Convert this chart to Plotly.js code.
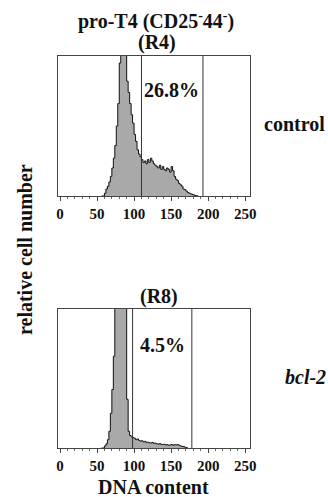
<!DOCTYPE html>
<html>
<head>
<meta charset="utf-8">
<script src="https://cdn.plot.ly/plotly-3.0.1.min.js"></script>
<style>html,body{margin:0;padding:0;background:#fff;}#chart{width:328px;height:497px;}</style>
</head>
<body>
<div id="chart"></div>
<script>
// DNA content bins (channel) and relative cell number (fraction of panel height)
const binsControl = [56,58,60,62,64,66,68,70,72,74,76,78,80,82,84,86,88,90,92,94,96,98,100,102,104,106,108,110,112,114,116,118,120,122,124,126,128,130,132,134,136,138,140,142,144,146,148,150,152,154,156,158,160,162,164,166,168,170,172,174,176,178,180,182,184,186];
const countsControl = [0,0,0.02,0.05,0.07,0.10,0.14,0.20,0.27,0.36,0.50,0.66,0.95,1.3,1.5,1.4,1.1,0.82,0.74,0.66,0.58,0.52,0.44,0.39,0.33,0.30,0.28,0.26,0.24,0.25,0.23,0.26,0.24,0.27,0.25,0.23,0.22,0.21,0.20,0.22,0.19,0.21,0.19,0.18,0.20,0.19,0.17,0.21,0.18,0.14,0.12,0.11,0.09,0.08,0.07,0.05,0.045,0.035,0.025,0.02,0.015,0.012,0.008,0.004,0.002,0];
const binsBcl2 = [56,58,60,62,64,66,68,70,72,74,76,78,80,82,84,86,88,90,92,94,96,98,100,102,104,106,108,110,112,114,116,118,120,122,124,126,128,130,132,134,136,138,140,142,144,146,148,150,152,154,156,158,160,162,164,166,168,170,172];
const countsBcl2 = [0,0,0.015,0.03,0.06,0.12,0.25,0.42,0.66,1.05,1.4,1.6,1.7,1.6,1.5,1.3,1.02,0.35,0.12,0.09,0.08,0.075,0.07,0.06,0.065,0.055,0.05,0.052,0.045,0.048,0.04,0.042,0.038,0.036,0.04,0.033,0.035,0.03,0.028,0.032,0.026,0.025,0.027,0.022,0.024,0.02,0.022,0.025,0.02,0.024,0.022,0.025,0.02,0.015,0.012,0.01,0.006,0.003,0];
// gate markers (DNA channel)
const gatesControl = [110, 193];
const gatesBcl2 = [98, 178];
const tickVals = [0, 50, 100, 150, 200, 250];
const tickText = ['0', '50', '100', '150', '200', '250'];
const pctControl = '26.8%';
const pctBcl2 = '4.5%';

const W = 328, H = 497;
const px = v => v / W;
const py = v => 1 - v / H;
const serif = 'Liberation Serif, Times New Roman, serif';

function hist(x, y, xa, ya) {
  return {x: x, y: y, xaxis: xa, yaxis: ya, type: 'scatter', mode: 'lines',
    line: {shape: 'hv', color: '#111', width: 1}, fill: 'tozeroy', fillcolor: '#a9a9a9',
    hoverinfo: 'skip', showlegend: false};
}
function gate(v, xa, ya) {
  return {x: [v, v], y: [0, 1.2], xaxis: xa, yaxis: ya, type: 'scatter', mode: 'lines',
    line: {color: '#333', width: 1}, hoverinfo: 'skip', showlegend: false};
}
const traces = [hist(binsControl, countsControl, 'x', 'y'), hist(binsBcl2, countsBcl2, 'x2', 'y2')];
gatesControl.forEach(g => traces.push(gate(g, 'x', 'y')));
gatesBcl2.forEach(g => traces.push(gate(g, 'x2', 'y2')));

function xax(dom, anchor) {
  return {domain: dom, anchor: anchor, range: [-2.7, 256.5], showgrid: false, zeroline: false,
    showline: true, mirror: true, linecolor: '#444', linewidth: 1.2,
    ticks: 'outside', ticklen: 4, tickwidth: 1, tickcolor: '#444',
    tickvals: tickVals, ticktext: tickText,
    minor: {dtick: 10, tick0: 0, ticks: 'outside', ticklen: 2, tickcolor: '#666', showgrid: false},
    tickfont: {family: serif, size: 15, color: '#111', weight: 'bold'}, fixedrange: true};
}
function yax(dom, anchor) {
  return {domain: dom, anchor: anchor, range: [0, 1], showgrid: false, zeroline: false,
    showline: true, mirror: true, linecolor: '#444', linewidth: 1.2,
    ticks: '', showticklabels: false, fixedrange: true};
}
const f20 = {family: serif, size: 20, color: '#111', weight: 'bold'};
function ann(text, x, y, extra) {
  return Object.assign({text: text, xref: 'paper', yref: 'paper', x: px(x), y: py(y),
    xanchor: 'center', yanchor: 'middle', showarrow: false, font: f20}, extra || {});
}
const layout = {
  width: W, height: H, margin: {l: 0, r: 0, t: 0, b: 0},
  paper_bgcolor: '#fff', plot_bgcolor: '#fff', showlegend: false,
  xaxis: xax([px(58), px(250)], 'y'),
  yaxis: yax([py(196), py(56)], 'x'),
  xaxis2: xax([px(58), px(250)], 'y2'),
  yaxis2: yax([py(448), py(309)], 'x2'),
  annotations: [
    ann('pro-T4 (CD25<sup>-</sup>44<sup>-</sup>)', 156, 20),
    ann('(R4)', 157, 42),
    ann('(R8)', 159, 296),
    ann(pctControl, 171, 90),
    ann(pctBcl2, 162, 345),
    ann('control', 294, 124),
    ann('<i>bcl-2</i>', 305, 377),
    ann('relative cell number', 25, 250, {textangle: -90}),
    ann('DNA content', 153, 487)
  ]
};
Plotly.newPlot('chart', traces, layout, {displayModeBar: false, staticPlot: true});
</script>
</body>
</html>
